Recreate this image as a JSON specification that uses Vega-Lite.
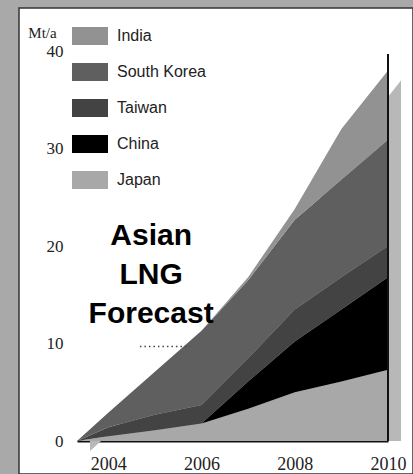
{
  "$schema": "https://vega.github.io/schema/vega-lite/v6.json",
  "width": 394,
  "height": 466,
  "autosize": {"type": "none"},
  "padding": {"left": 19, "top": 8, "right": 0, "bottom": 0},
  "background": "#a9a9a9",
  "config": {"view": {"fill": "white", "stroke": "#333", "strokeWidth": 1.5}, "font": "Liberation Sans"},
  "data": {"values": [
    {"year": 2003.33, "country": "Japan", "value": 0},
    {"year": 2004, "country": "Japan", "value": 0.5},
    {"year": 2005, "country": "Japan", "value": 1.1},
    {"year": 2006, "country": "Japan", "value": 1.8},
    {"year": 2007, "country": "Japan", "value": 3.3},
    {"year": 2008, "country": "Japan", "value": 5.0},
    {"year": 2009, "country": "Japan", "value": 6.1},
    {"year": 2010, "country": "Japan", "value": 7.3},
    {"year": 2003.33, "country": "China", "value": 0},
    {"year": 2004, "country": "China", "value": 0},
    {"year": 2005, "country": "China", "value": 0},
    {"year": 2006, "country": "China", "value": 0},
    {"year": 2007, "country": "China", "value": 2.8},
    {"year": 2008, "country": "China", "value": 5.2},
    {"year": 2009, "country": "China", "value": 7.4},
    {"year": 2010, "country": "China", "value": 9.5},
    {"year": 2003.33, "country": "Taiwan", "value": 0},
    {"year": 2004, "country": "Taiwan", "value": 0.9},
    {"year": 2005, "country": "Taiwan", "value": 1.6},
    {"year": 2006, "country": "Taiwan", "value": 1.9},
    {"year": 2007, "country": "Taiwan", "value": 2.4},
    {"year": 2008, "country": "Taiwan", "value": 3.3},
    {"year": 2009, "country": "Taiwan", "value": 3.3},
    {"year": 2010, "country": "Taiwan", "value": 3.2},
    {"year": 2003.33, "country": "South Korea", "value": 0},
    {"year": 2004, "country": "South Korea", "value": 1.5},
    {"year": 2005, "country": "South Korea", "value": 4.4},
    {"year": 2006, "country": "South Korea", "value": 7.6},
    {"year": 2007, "country": "South Korea", "value": 8.0},
    {"year": 2008, "country": "South Korea", "value": 9.2},
    {"year": 2009, "country": "South Korea", "value": 10.0},
    {"year": 2010, "country": "South Korea", "value": 10.9},
    {"year": 2003.33, "country": "India", "value": 0},
    {"year": 2004, "country": "India", "value": 0},
    {"year": 2005, "country": "India", "value": 0},
    {"year": 2006, "country": "India", "value": 0},
    {"year": 2007, "country": "India", "value": 0.3},
    {"year": 2008, "country": "India", "value": 1.1},
    {"year": 2009, "country": "India", "value": 5.2},
    {"year": 2010, "country": "India", "value": 7.1}
  ]},
  "layer": [
    {
      "mark": {"type": "area", "color": "#b8b8b8", "xOffset": 13, "yOffset": 10, "y2Offset": 10},
      "encoding": {
        "x": {"field": "year", "type": "quantitative"},
        "y": {"aggregate": "sum", "field": "value", "type": "quantitative", "title": "Mt/a"}
      }
    },
    {
      "transform": [{"calculate": "indexof(['Japan','China','Taiwan','South Korea','India'], datum.country)", "as": "stackOrder"}],
      "mark": {"type": "area", "interpolate": "linear"},
      "encoding": {
        "x": {"field": "year", "type": "quantitative",
          "scale": {"domain": [2003.33, 2010], "range": [58, 369], "nice": false, "zero": false},
          "axis": {"values": [2004, 2006, 2008, 2010], "format": "d", "orient": "bottom", "offset": -33, "grid": false, "ticks": false, "tickSize": 0, "labelPadding": 14, "labelFont": "Liberation Serif", "labelFontSize": 18, "labelColor": "#222", "domainColor": "#111", "domainWidth": 2, "title": null, "labelFlush": false}},
        "y": {"field": "value", "type": "quantitative", "stack": "zero", "title": "Mt/a",
          "scale": {"domain": [0, 40], "range": [433, 43], "nice": false},
          "axis": {"values": [0, 10, 20, 30, 40], "orient": "left", "offset": -50, "domain": false, "ticks": false, "tickSize": 0, "labelPadding": 6, "grid": false, "labelFont": "Liberation Serif", "labelFontSize": 17, "labelColor": "#222", "titleAngle": 0, "titleX": -27, "titleY": 24, "titleAlign": "center", "titleBaseline": "middle", "titleFont": "Liberation Serif", "titleFontSize": 15, "titleFontWeight": "normal", "titleColor": "#222"}},
        "color": {"field": "country", "type": "nominal",
          "scale": {"domain": ["India", "South Korea", "Taiwan", "China", "Japan"], "range": ["#929292", "#5f5f5f", "#434343", "#000000", "#a8a8a8"]},
          "legend": {"orient": "none", "legendX": 53, "legendY": 10, "title": null, "symbolType": "M-1,-0.5H1V0.5H-1Z", "symbolSize": 1296, "symbolStrokeWidth": 0, "labelFont": "Liberation Sans", "labelFontSize": 16, "labelColor": "#222", "labelOffset": 9, "rowPadding": 9, "padding": 0, "symbolOpacity": 1}},
        "order": {"field": "stackOrder", "type": "quantitative", "sort": "ascending"}
      }
    },
    {
      "data": {"values": [{}]},
      "mark": {"type": "rule", "color": "#111", "strokeWidth": 2},
      "encoding": {"x": {"datum": 2010}, "y": {"datum": 0}, "y2": {"datum": 39.7}}
    },
    {
      "data": {"values": [{}]},
      "mark": {"type": "rule", "color": "#444", "strokeWidth": 1.5, "strokeDash": [1.5, 3]},
      "encoding": {"x": {"datum": 2004.68}, "x2": {"datum": 2005.75}, "y": {"datum": 9.7}}
    },
    {
      "data": {"values": [{}]},
      "mark": {"type": "text", "text": ["Asian", "LNG", "Forecast"], "font": "Liberation Sans", "fontSize": 30, "fontWeight": "bold", "lineHeight": 39, "align": "center", "baseline": "middle", "color": "#000"},
      "encoding": {"x": {"datum": 2004.92}, "y": {"datum": 21.0}}
    }
  ]
}
